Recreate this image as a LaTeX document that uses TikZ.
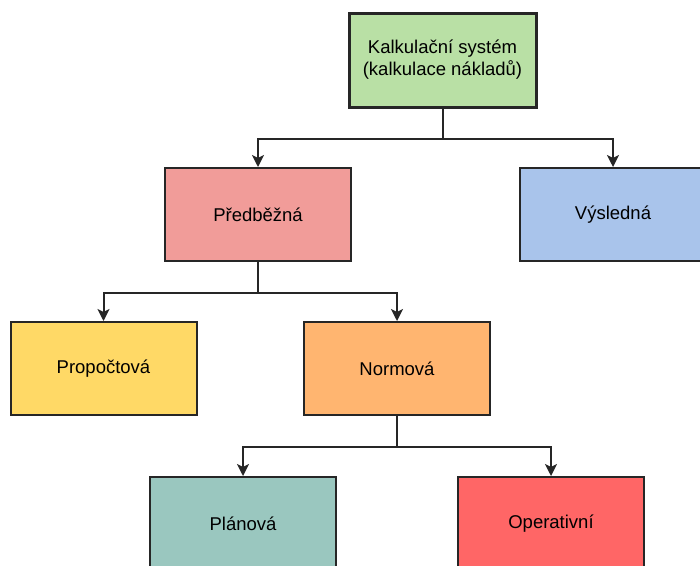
\documentclass[tikz,border=0pt]{standalone}
\usepackage{fontspec}
\setmainfont{Liberation Sans}
\usetikzlibrary{arrows.meta}
\definecolor{syscol}{HTML}{B9E0A5}
\definecolor{predcol}{HTML}{F19C99}
\definecolor{vyslcol}{HTML}{A9C4EB}
\definecolor{propcol}{HTML}{FFD966}
\definecolor{normcol}{HTML}{FFB570}
\definecolor{plancol}{HTML}{9AC7BF}
\definecolor{opercol}{HTML}{FF6666}
\tikzset{
  block/.style={
    rectangle,
    draw=black!85,
    line width=2pt,
    minimum width=186pt,
    minimum height=93pt,
    align=center,
    font=\fontsize{18.5}{22}\selectfont
  }
}
\tikzstyle{arrow} = [-{Stealth[length=12pt, width=12pt, inset=3pt]}, line width=2pt, draw=black!85]

\begin{document}
\begin{tikzpicture}[x=1pt, y=-1pt]
    \useasboundingbox (0,0) rectangle (700,565);
    \node[block, fill=syscol, line width=3pt, minimum width=187pt, minimum height=94pt] (syst) at (442.5, 60) {Kalkulační systém\\(kalkulace nákladů)};
    \node[block, fill=predcol] (pred) at (258, 214.5) {Předběžná};
    \node[block, fill=vyslcol] (vysl) at (613, 214.5) {Výsledná};
    \node[block, fill=propcol] (prop) at (103.5, 368.5) {Propočtová};
    \node[block, fill=normcol] (norm) at (397, 368.5) {Normová};
    \node[block, fill=plancol] (plan) at (243, 523.5) {Plánová};
    \node[block, fill=opercol] (oper) at (551, 523.5) {Operativní};
    \draw[arrow] (syst.south) -- ++(0,30) -| (pred.north);
    \draw[arrow] (syst.south) -- ++(0,30) -| (vysl.north);
    \draw[arrow] (pred.south) -- ++(0,31) -| (prop.north);
    \draw[arrow] (pred.south) -- ++(0,31) -| (norm.north);
    \draw[arrow] (norm.south) -- ++(0,31) -| (plan.north);
    \draw[arrow] (norm.south) -- ++(0,31) -| (oper.north);
\end{tikzpicture}
\end{document}
